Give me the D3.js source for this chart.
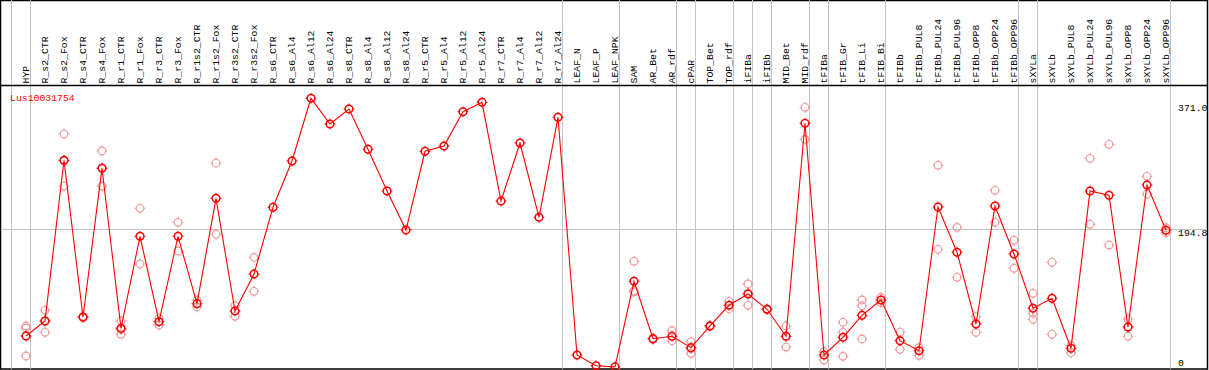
<!DOCTYPE html>
<html>
<head>
<meta charset="utf-8">
<script src="https://cdn.jsdelivr.net/npm/d3@7"></script>
<style>
  body { margin: 0; background: #fff; }
  svg { display: block; }
  text { font-family: "Liberation Mono", "DejaVu Sans Mono", monospace; font-size: 9.8px; }
</style>
</head>
<body>
<script>
// sample names, left to right
var categories = ["HYP", "R_s2_CTR", "R_s2_Fox", "R_s4_CTR", "R_s4_Fox", "R_r1_CTR", "R_r1_Fox",
    "R_r3_CTR", "R_r3_Fox", "R_r1s2_CTR", "R_r1s2_Fox", "R_r3s2_CTR", "R_r3s2_Fox",
    "R_s6_CTR", "R_s6_Al4", "R_s6_Al12", "R_s6_Al24", "R_s8_CTR", "R_s8_Al4", "R_s8_Al12", "R_s8_Al24",
    "R_r5_CTR", "R_r5_Al4", "R_r5_Al12", "R_r5_Al24", "R_r7_CTR", "R_r7_Al4", "R_r7_Al12", "R_r7_Al24",
    "LEAF_N", "LEAF_P", "LEAF_NPK", "SAM", "AR_Bet", "AR_rdf", "cPAR", "TOP_Bet", "TOP_rdf",
    "iFIBa", "iFIBb", "MID_Bet", "MID_rdf", "tFIBa", "tFIB_Gr", "tFIB_Li", "tFIB_Bi",
    "tFIBb", "tFIBb_PUL8", "tFIBb_PUL24", "tFIBb_PUL96", "tFIBb_OPP8", "tFIBb_OPP24", "tFIBb_OPP96",
    "sXYLa", "sXYLb", "sXYLb_PUL8", "sXYLb_PUL24", "sXYLb_PUL96", "sXYLb_OPP8", "sXYLb_OPP24", "sXYLb_OPP96"];

// mean expression per sample
var means = [43.6, 64.7, 290.8, 70.3, 279.5, 54.4, 183.9,
    63.7, 183.9, 89.1, 237.3, 78.8, 130.8,
    224.7, 289.8, 378.0, 341.9, 363.0, 306.3, 247.6, 192.7,
    303.5, 310.9, 359.2, 372.4, 233.5, 315.1, 210.6, 351.3,
    16.9, 1.8, 0.2, 120.6, 39.8, 43.2, 27.2, 57.7, 86.8,
    102.7, 81.2, 43.2, 342.9, 16.9, 41.8, 72.7, 94.3,
    37.0, 22.9, 225.1, 161.4, 60.5, 226.5, 159.0,
    82.6, 96.6, 26.3, 247.6, 241.6, 56.3, 256.0, 192.3];

// individual replicates per sample
var replicates = [
    [57.7, 54.9, 15.5], [79.8, 48.8, 65.0], [327.8, 254.6, 290.0], [70.0, 71.0, 69.5],
    [304.0, 254.6, 280.0], [64.7, 46.0, 52.5], [223.3, 144.9],
    [68.5, 59.1], [203.6, 163.2], [93.8, 84.4], [287.0, 186.7], [86.2, 71.3], [154.3, 106.5],
    [], [], [], [], [], [], [], [],
    [], [], [], [], [], [], [], [],
    [], [], [], [148.7, 107.3, 105.8], [40.5, 39.0], [51.1, 37.0], [35.6, 26.0, 19.3], [58.5, 57.0], [92.4, 82.0],
    [116.8, 86.8, 104.0], [82.0, 80.5], [57.7, 28.1], [365.4, 320.3], [9.8, 21.5], [62.9, 48.8, 15.0],
    [94.3, 86.2, 39.4], [98.0, 90.5],
    [48.8, 24.9], [27.2, 16.5], [283.8, 165.6], [196.5, 126.2], [70.8, 48.8], [248.6, 203.6], [178.3, 138.9],
    [103.7, 75.5, 67.1], [147.3, 46.0], [30.0, 20.1], [293.6, 200.8], [313.3, 171.6], [67.5, 43.2],
    [268.3, 243.4], [196.0, 189.0]];

// group separators (index of first sample of each group, plus the end)
var groupBreaks = [0, 1, 29, 32, 35, 36, 38, 39, 40, 42, 43, 46, 53, 54, 61];

var yTicks = [0, 194.8, 371.0];
var geneName = "Lus10031754";

var width = 1209, height = 370;
var svg = d3.select("body").append("svg")
    .attr("width", width)
    .attr("height", height);

var x = d3.scaleBand().domain(categories).range([11, 11 + 19 * categories.length]);
var y = d3.scaleLinear().domain([0, 371]).range([367, 103.3]);
var px = function(i) { return x(categories[i]) + 15; };

// frame
svg.append("rect")
    .attr("x", 0.5).attr("y", 0.5)
    .attr("width", 1207).attr("height", 368.5)
    .attr("fill", "none").attr("stroke", "#000").attr("stroke-width", 1.5);

// group lines
svg.append("g")
    .selectAll("line")
    .data(groupBreaks)
    .join("line")
    .attr("x1", d => 11 + x.step() * d + 0.5)
    .attr("x2", d => 11 + x.step() * d + 0.5)
    .attr("y1", 0).attr("y2", 369)
    .attr("stroke", "#c4c4c4");

// mid gridline
svg.append("line")
    .attr("x1", 1).attr("x2", 1207)
    .attr("y1", Math.round(y(194.8)) + 0.5).attr("y2", Math.round(y(194.8)) + 0.5)
    .attr("stroke", "#c4c4c4");

// header separator
svg.append("line")
    .attr("x1", 0).attr("x2", 1208)
    .attr("y1", 85.5).attr("y2", 85.5)
    .attr("stroke", "#000").attr("stroke-width", 1.5);

// sample labels
svg.append("g")
    .selectAll("text")
    .data(categories)
    .join("text")
    .attr("transform", (d, i) => `translate(${px(i) + 3},83.5) rotate(-90)`)
    .attr("fill", "#000")
    .text(d => d);

svg.append("text")
    .attr("x", 10).attr("y", 101)
    .attr("fill", "#ff0000")
    .text(geneName);

// y labels
svg.append("g")
    .selectAll("text")
    .data(yTicks)
    .join("text")
    .attr("x", 1178)
    .attr("y", d => Math.min(y(d) + 7.3, 365.7))
    .attr("fill", "#000")
    .text(d => d === 0 ? "0" : d.toFixed(1));

function marker(g, cx, cy, color, sw) {
    var r = 3.8, t = 1.6;
    g.append("circle").attr("cx", cx).attr("cy", cy).attr("r", r)
        .attr("fill", "none").attr("stroke", color).attr("stroke-width", sw);
    [[0, -1], [0, 1], [-1, 0], [1, 0]].forEach(function(v) {
        g.append("line")
            .attr("x1", cx + v[0] * r).attr("y1", cy + v[1] * r)
            .attr("x2", cx + v[0] * (r + t)).attr("y2", cy + v[1] * (r + t))
            .attr("stroke", color).attr("stroke-width", 1);
    });
}

// replicates
var repG = svg.append("g");
replicates.forEach(function(reps, i) {
    reps.forEach(function(v) { marker(repG, px(i), y(v), "#f09a9a", 1.2); });
});

// mean line
var line = d3.line().x((d, i) => px(i)).y(d => y(d));
svg.append("path")
    .datum(means)
    .attr("d", line)
    .attr("fill", "none")
    .attr("stroke", "#ff0000")
    .attr("stroke-width", 1.1);

var meanG = svg.append("g");
means.forEach(function(v, i) { marker(meanG, px(i), y(v), "#ff0000", 1.5); });
</script>
</body>
</html>
